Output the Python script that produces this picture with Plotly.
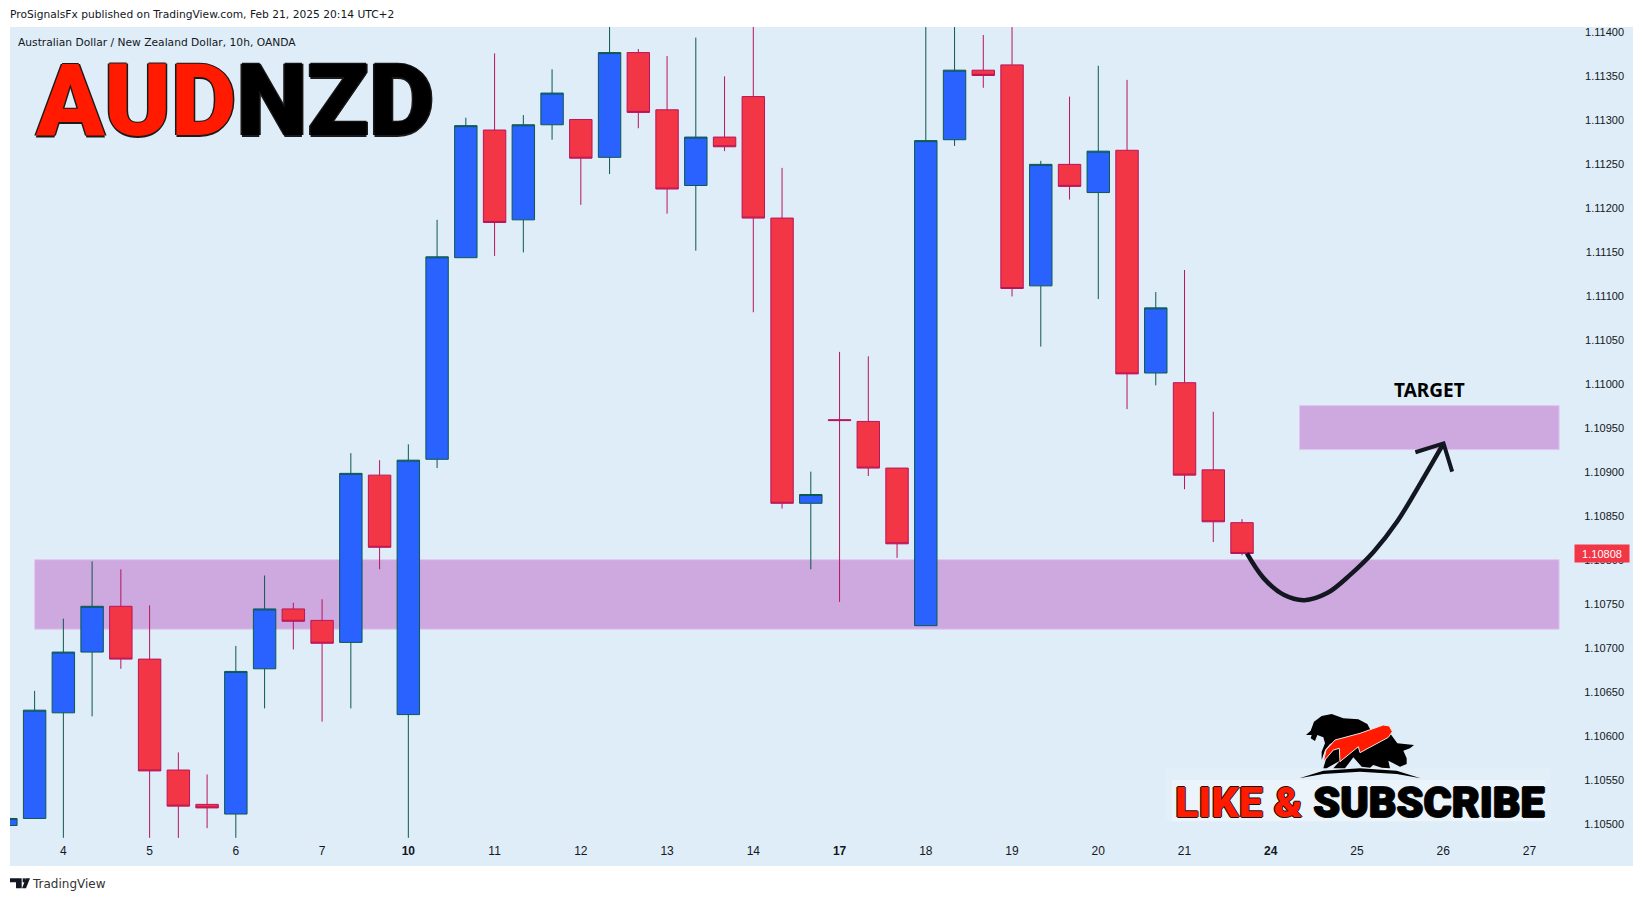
"""AUDNZD 10h candles with zones, target arrow and branding, redrawn in Plotly."""

import plotly.graph_objects as go

W, H = 1643, 901
PANEL_L, PANEL_R, PANEL_T, PANEL_B = 10, 1633, 27, 866
PLOT_T = 20  # plot area runs a little above the panel so the top price label is not dropped

BG_COLOR = '#dfedf8'
UP_FILL = '#2962ff'
UP_LINE = '#0b5a4c'
DOWN_FILL = '#f23645'
DOWN_LINE = '#b8155a'
ZONE_FILL = '#cea9df'
ZONE_LINE = '#e3c6f1'
INK = '#131722'

bars = list(range(-1, 43))
opens = [1.10499, 1.10507, 1.10627, 1.10696, 1.10748, 1.10688, 1.10562, 1.10523, 1.10512, 1.10677, 1.10745,
         1.10732, 1.10707, 1.10897, 1.10625, 1.10915, 1.11144, 1.11289, 1.11187, 1.11295, 1.11301, 1.11258,
         1.11377, 1.11312, 1.11226, 1.11281, 1.11327, 1.11189, 1.10865, 1.10960, 1.10958, 1.10905, 1.10726,
         1.11278, 1.11357, 1.11363, 1.11112, 1.11250, 1.11218, 1.11266, 1.11013, 1.11002, 1.10903, 1.10843]
highs = [1.10507, 1.10652, 1.10734, 1.10799, 1.10790, 1.10749, 1.10582, 1.10557, 1.10703, 1.10783, 1.10752,
         1.10756, 1.10922, 1.10914, 1.10932, 1.11187, 1.11303, 1.11376, 1.11306, 1.11358, 1.11301, 1.11406,
         1.11381, 1.11373, 1.11394, 1.11350, 1.11406, 1.11246, 1.10901, 1.11037, 1.11032, 1.10905, 1.11406,
         1.11406, 1.11397, 1.11406, 1.11254, 1.11327, 1.11362, 1.11346, 1.11105, 1.11130, 1.10969, 1.10847]
lows = [1.10499, 1.10507, 1.10485, 1.10623, 1.10677, 1.10485, 1.10485, 1.10496, 1.10485, 1.10632, 1.10699,
        1.10617, 1.10632, 1.10790, 1.10485, 1.10905, 1.11144, 1.11146, 1.11150, 1.11278, 1.11204, 1.11239,
        1.11291, 1.11194, 1.11152, 1.11265, 1.11082, 1.10859, 1.10790, 1.10753, 1.10896, 1.10803, 1.10726,
        1.11271, 1.11337, 1.11100, 1.11043, 1.11210, 1.11097, 1.10972, 1.10999, 1.10881, 1.10821, 1.10806]
closes = [1.10507, 1.10630, 1.10696, 1.10748, 1.10688, 1.10561, 1.10521, 1.10519, 1.10674, 1.10745, 1.10731,
          1.10706, 1.10899, 1.10815, 1.10914, 1.11145, 1.11294, 1.11184, 1.11295, 1.11331, 1.11257, 1.11377,
          1.11309, 1.11222, 1.11281, 1.11270, 1.11189, 1.10865, 1.10875, 1.10959, 1.10905, 1.10819, 1.11277,
          1.11357, 1.11351, 1.11109, 1.11250, 1.11225, 1.11265, 1.11012, 1.11087, 1.10897, 1.10844, 1.10808]

date_bars = [1, 4, 7, 10, 13, 16, 19, 22, 25, 28, 31, 34, 37, 40, 43, 46, 49, 52]
date_labels = ['4', '5', '6', '7', '<b>10</b>', '11', '12', '13', '14', '<b>17</b>', '18', '19', '20', '21',
               '<b>24</b>', '25', '26', '27']
price_ticks = [1.105, 1.1055, 1.106, 1.1065, 1.107, 1.1075, 1.108, 1.1085, 1.109, 1.1095, 1.11, 1.1105, 1.111,
               1.1115, 1.112, 1.1125, 1.113, 1.1135, 1.114]

support_zone = dict(x0=0, x1=53.03, y0=1.10722, y1=1.10801)
target_zone = dict(x0=44.0, x1=53.03, y0=1.10926, y1=1.10976)

path_bars = [42.17, 42.75, 43.45, 44.17, 44.96, 45.77, 46.58, 47.39, 48.21, 49.01]
path_prices = [1.10808, 1.10780, 1.10761, 1.10755, 1.10763, 1.10784, 1.10810, 1.10844, 1.10888, 1.10933]
head_bars = [48.03, 49.01, 49.31]
head_prices = [1.10923, 1.10933, 1.10901]

# Logo outlines, measured on a 3x crop of the bull and bear mark
BEAR = [(48, 105), (62, 92), (72, 65), (95, 48), (125, 42), (160, 55), (205, 58), (232, 72), (245, 97), (200, 110),
        (150, 118), (120, 132), (105, 150), (95, 180), (95, 155), (105, 130), (100, 112), (82, 105), (75, 123),
        (62, 115), (65, 105)]
BULL = [(300, 100), (322, 130), (372, 135), (360, 145), (340, 152), (350, 175), (350, 192), (330, 200), (295, 182),
        (300, 205), (275, 203), (250, 195), (240, 203), (215, 200), (190, 172), (165, 205), (130, 205), (150, 182),
        (110, 205), (100, 205), (110, 170), (150, 130), (250, 100)]
ARROW = [(100, 185), (108, 150), (135, 120), (210, 100), (280, 75), (298, 78), (307, 95), (295, 112), (210, 158),
         (205, 140), (150, 185), (148, 145), (130, 150)]
ARC = [(28, 235), (100, 212), (210, 205), (320, 212), (392, 235), (320, 222), (210, 215), (100, 222)]
TV_T = [(15, 40), (50, 40), (50, 70), (33, 70), (33, 52), (15, 52)]
TV_DOT = [(53, 40), (62, 40), (62, 52), (53, 52)]
TV_SLASH = [(63, 40), (75, 40), (63, 70), (51, 70)]


def px(x):
    """Page pixel x to paper fraction."""
    return (x - PANEL_L) / (PANEL_R - PANEL_L)


def py(y):
    """Page pixel y to paper fraction."""
    return (PANEL_B - y) / (PANEL_B - PLOT_T)


def crop_path(points, left, top):
    """Closed SVG path in paper coordinates from points measured on a 3x crop."""
    coords = [(px(left + x / 3), py(top + y / 3)) for x, y in points]
    return 'M' + ' L'.join(f'{x:.5f},{y:.5f}' for x, y in coords) + ' Z'


fig = go.Figure()

fig.add_shape(type='rect', xref='paper', yref='paper', layer='below', x0=0, x1=1, y0=0, y1=py(PANEL_T),
              fillcolor=BG_COLOR, line_width=0)
for zone in (support_zone, target_zone):
    fig.add_shape(type='rect', layer='below', fillcolor=ZONE_FILL, line=dict(color=ZONE_LINE, width=1), **zone)

fig.add_trace(go.Candlestick(
    x=bars, open=opens, high=highs, low=lows, close=closes,
    increasing=dict(fillcolor=UP_FILL, line=dict(color=UP_LINE, width=1)),
    decreasing=dict(fillcolor=DOWN_FILL, line=dict(color=DOWN_LINE, width=1)),
    showlegend=False, hoverinfo='skip',
))

fig.add_trace(go.Scatter(
    x=path_bars, y=path_prices, mode='lines',
    line=dict(color=INK, width=4.5, shape='spline', smoothing=1),
    showlegend=False, hoverinfo='skip',
))
fig.add_trace(go.Scatter(
    x=head_bars, y=head_prices, mode='lines',
    line=dict(color=INK, width=4),
    showlegend=False, hoverinfo='skip',
))

# Branding, bottom right: soft light band behind the text, then the logo
for x0, x1, y0, y1, alpha in ((1165, 1551, 822, 768, 0.12), (1172, 1545, 821, 780, 0.3)):
    fig.add_shape(type='rect', xref='paper', yref='paper', layer='above', x0=px(x0), x1=px(x1), y0=py(y0), y1=py(y1),
                  fillcolor=f'rgba(255,255,255,{alpha})', line_width=0)
for points, color in ((BEAR, '#000000'), (BULL, '#000000'), (ARC, '#000000')):
    fig.add_shape(type='path', xref='paper', yref='paper', path=crop_path(points, 1290, 700),
                  fillcolor=color, line_width=0)
fig.add_shape(type='path', xref='paper', yref='paper', path=crop_path(ARROW, 1290, 700),
              fillcolor='#ff1a00', line=dict(color='#e8e8e8', width=1))

# TradingView mark in the footer
for points in (TV_T, TV_DOT, TV_SLASH):
    fig.add_shape(type='path', xref='paper', yref='paper', path=crop_path(points, 5, 865),
                  fillcolor=INK, line_width=0)

small = dict(family='DejaVu Sans', size=10.7, color=INK)
notes = [
    dict(x=px(8), y=py(15), text='ProSignalsFx published on TradingView.com, Feb 21, 2025 20:14 UTC+2',
         xanchor='left', font=small),
    dict(x=px(16), y=py(43), text='Australian Dollar / New Zealand Dollar, 10h, OANDA', xanchor='left', font=small),
    dict(x=px(30), y=py(884), text='TradingView', xanchor='left',
         font=dict(family='DejaVu Sans', size=12, color='#333333')),
    dict(x=px(33), y=py(100),
         text="<span style='color:#ff1a00'>AUD</span>NZD", xanchor='left',
         font=dict(family='Roboto', size=101, color='#000000', weight=900,
                   shadow='-1.5px 0 0 #1a1a1a, 1.5px 0 0 #1a1a1a, 0 -1.5px 0 #1a1a1a, 0 1.5px 0 #1a1a1a')),
    dict(x=px(1360), y=py(802),
         text="<span style='color:#ff1a00'>LIKE &amp;</span> SUBSCRIBE", xanchor='center',
         font=dict(family='Roboto', size=43, color='#000000', weight=900,
                   shadow='-1px 0 0 #111, 1px 0 0 #111, 0 -1px 0 #111, 0 1px 0 #111')),
    dict(x=px(1429), y=py(390), text='<b>TARGET</b>', xanchor='center',
         font=dict(family='Noto Sans', size=19, color='#000000')),
    dict(x=px(1602), y=closes[-1], yref='y', text=f'{closes[-1]:.5f}', xanchor='center',
         bgcolor=DOWN_FILL, width=52, height=15, font=dict(family='Liberation Sans', size=11, color='#ffffff')),
]
for note in notes:
    fig.add_annotation(**{'xref': 'paper', 'yref': 'paper', 'yanchor': 'middle', 'showarrow': False, 'borderpad': 1,
                          **note})

fig.update_layout(
    width=W, height=H,
    margin=dict(l=PANEL_L, r=W - PANEL_R, t=PLOT_T, b=H - PANEL_B, autoexpand=False),
    paper_bgcolor='#ffffff', plot_bgcolor='#ffffff',
    boxgap=0.22, boxgroupgap=0, hovermode=False, dragmode=False,
    xaxis=dict(
        range=[-0.856, 55.6], rangeslider_visible=False, showgrid=False, zeroline=False,
        tickmode='array', tickvals=date_bars, ticktext=date_labels, ticks='',
        ticklabelposition='inside', ticklabelstandoff=6,
        tickfont=dict(family='Liberation Sans', size=12, color=INK),
    ),
    yaxis=dict(
        range=[1.10453, 1.11414], side='right', showgrid=False, zeroline=False,
        tickmode='array', tickvals=price_ticks, ticktext=[f'{p:.5f}' for p in price_ticks], ticks='',
        ticklabelposition='inside', ticklabelstandoff=6,
        tickfont=dict(family='Liberation Sans', size=11, color=INK),
    ),
)

fig.write_html("out.html", config=dict(displayModeBar=False),
               post_script="document.body.style.margin='0';")
